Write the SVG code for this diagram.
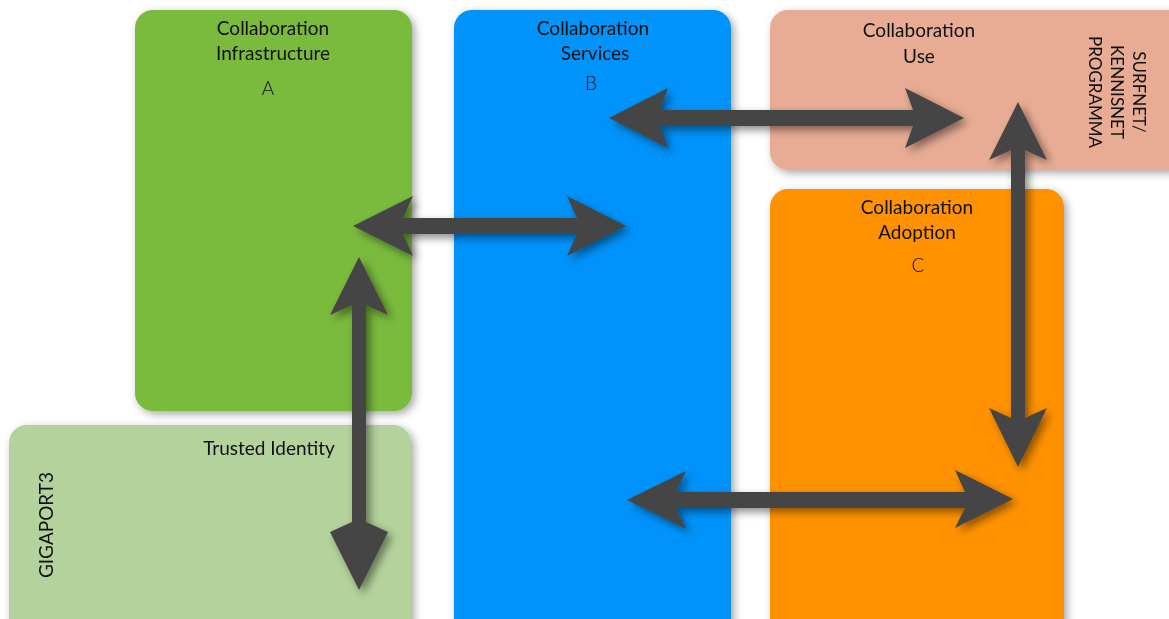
<svg xmlns="http://www.w3.org/2000/svg" width="1169" height="619" viewBox="0 0 1169 619">
<defs>
<filter id="sh" x="-10%" y="-10%" width="130%" height="130%">
<feDropShadow dx="3" dy="3" stdDeviation="4" flood-color="#000" flood-opacity="0.35"/>
</filter>
<filter id="ash" x="-20%" y="-20%" width="150%" height="150%">
<feDropShadow dx="4" dy="4" stdDeviation="4" flood-color="#000" flood-opacity="0.45"/>
</filter>
</defs>
<style>
text{font-family:"Lato","Open Sans","DejaVu Sans",sans-serif;font-size:19px;fill:#111;text-anchor:middle}
.letter{font-weight:300;font-size:19px}
.vert{font-size:17px}
.arrow{fill:#444;filter:url(#ash)}
</style>
<rect width="1169" height="619" fill="#fff"/>
<g id="node-trusted" filter="url(#sh)">
<rect x="9" y="425" width="402" height="215" rx="18" fill="#b4d29c"/>
<text x="269" y="455">Trusted Identity</text>
<text transform="translate(53,525) rotate(-90)">GIGAPORT3</text>
</g>
<g id="node-A" filter="url(#sh)">
<rect x="135" y="10" width="277" height="401" rx="18" fill="#7aba3e"/>
<text x="273" y="35">Collaboration</text>
<text x="273" y="60">Infrastructure</text>
<text class="letter" x="268" y="95">A</text>
</g>
<g id="node-B" filter="url(#sh)">
<rect x="454" y="10" width="277" height="630" rx="18" fill="#0093fb"/>
<text x="593" y="35">Collaboration</text>
<text x="595" y="60">Services</text>
<text class="letter" x="591" y="90">B</text>
</g>
<g id="node-use" filter="url(#sh)">
<rect x="770" y="10" width="420" height="160" rx="18" fill="#e8ac94"/>
<text x="919" y="37">Collaboration</text>
<text x="919" y="63">Use</text>
<g transform="translate(1089,92) rotate(90)">
<text class="vert" x="0" y="-44">SURFNET/</text>
<text class="vert" x="0" y="-22">KENNISNET</text>
<text class="vert" x="0" y="0">PROGRAMMA</text>
</g>
</g>
<g id="node-C" filter="url(#sh)">
<rect x="770" y="189" width="294" height="450" rx="18" fill="#ff9200"/>
<text x="917" y="214">Collaboration</text>
<text x="917" y="239">Adoption</text>
<text class="letter" x="918" y="272">C</text>
</g>
<g id="connectors">
<polygon class="arrow" points="609,118 668,88 660,110 913,110 905,88 964,118 905,148 913,126 660,126 668,148"/>
<polygon class="arrow" points="353,226 413,196 403,218 577,218 567,196 626,226 567,256 577,234 403,234 413,256"/>
<polygon class="arrow" points="359,257 388,315 366,305 366,522 388,532 359,590 330,532 352,522 352,305 330,315"/>
<polygon class="arrow" points="1018,102 1047,160 1025,150 1025,418 1047,408 1018,467 989,408 1011,418 1011,150 989,160"/>
<polygon class="arrow" points="627,500 686,471 676,492 965,492 955,470 1013,499 955,528 965,508 676,508 686,529"/>
</g>
</svg>
